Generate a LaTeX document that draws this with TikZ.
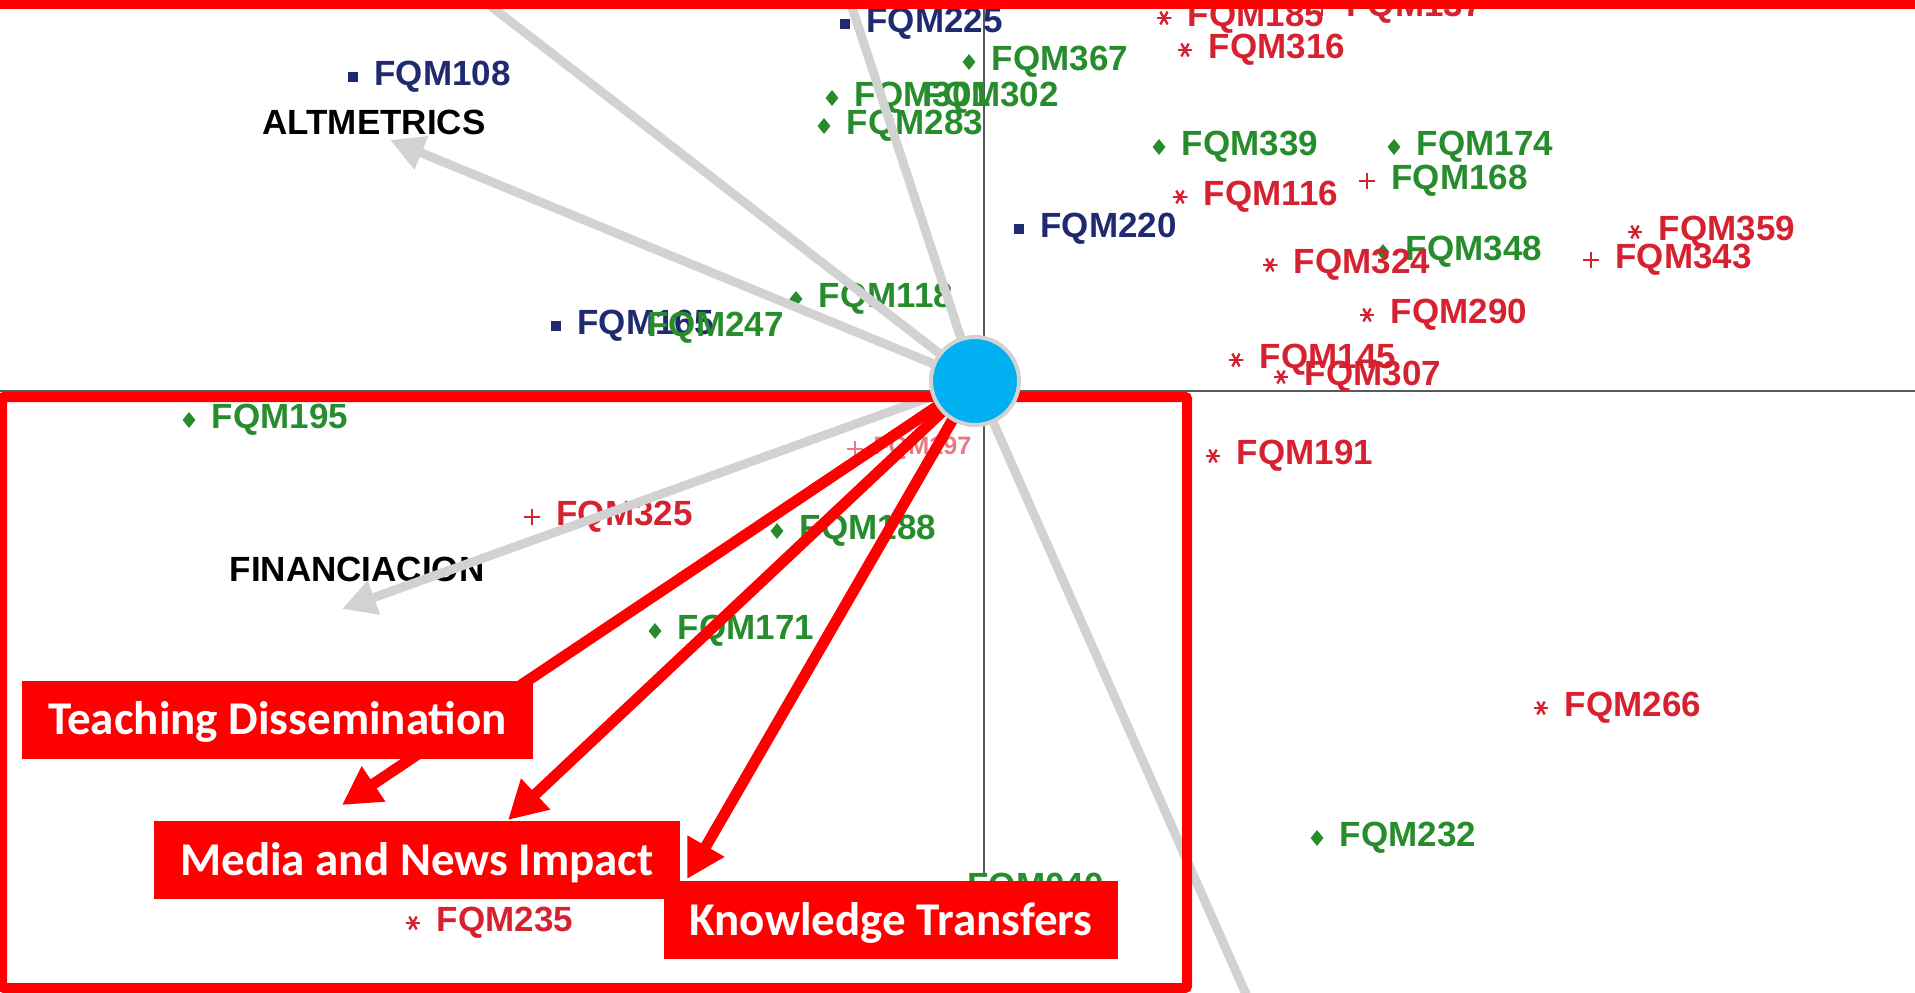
\documentclass[tikz,border=0pt]{standalone}
\usepackage{fontspec}
\usepackage{tikz}
\usetikzlibrary{
	positioning
	,shapes.geometric
	,arrows.meta
}
\newfontfamily\arial{Liberation Sans}
\newfontfamily\carlito{Carlito}
\definecolor{qnavy}{RGB}{32,42,112}
\definecolor{qgreen}{RGB}{38,140,44}
\definecolor{qred}{RGB}{214,34,48}
\definecolor{hot}{RGB}{255,0,0}
\definecolor{raygrey}{RGB}{210,210,210}
\definecolor{hubblue}{RGB}{0,176,240}
\newcommand{\fqm}[5][]{
	\node[#3,#4] (m#2) at (#5) {};
	\node[fqm label,text=#3,right=16pt of m#2,yshift=4pt,#1] (q#2) {FQM#2};
}
\tikzset{
	dotbase/.style={
		inner sep=0pt
		,minimum size=10pt
	},
	dot sq/.style={
		dotbase
		,rectangle
		,fill
		,minimum size=10pt
	},
	dot dm/.style={
		dotbase
		,diamond
		,fill
		,minimum width=13pt
		,minimum height=16pt
	},
	dot st/.style={
		dotbase
		,circle
		,minimum size=15pt
		,fill opacity=0
		,fill
		,path picture={
			\foreach \a in {0,60,120}{
				\draw[line width=2.4pt] (path picture bounding box.center) +(\a:7.5pt) -- +(\a+180:7.5pt);
			}
		}
	},
	dot pl/.style={
		dotbase
		,minimum size=16pt
		,fill opacity=0
		,fill
		,path picture={
			\foreach \a in {0,90}{
				\draw[line width=2.2pt] (path picture bounding box.center) +(\a:8pt) -- +(\a+180:8pt);
			}
		}
	},
	dot none/.style={
		dotbase
	}
}
\tikzset{fqm label/.style={
	inner sep=0pt,
	text height=25pt,
	text depth=0pt,
	font=\arial\bfseries\fontsize{35}{40}\selectfont,
}}
\tikzset{
	axisline/.style={line width=2.5pt,black!65}
	,grey ray/.style={line width=9pt,raygrey}
	,grey tip/.style={-{Triangle[length=34pt,width=34pt]}}
	,hot arrow/.style={line width=11pt,hot,-{Triangle[length=38pt,width=40pt]}}
	,tag/.style={
		fill=hot
		,text=white
		,inner sep=0pt
		,minimum height=78pt
		,text height=30pt
		,text depth=0pt
		,font=\carlito\bfseries\fontsize{47}{56}\selectfont
	}
	,hub/.style={circle,fill=hubblue,draw=raygrey,line width=4pt,minimum size=88pt,inner sep=0pt}
}

\begin{document}
\begin{tikzpicture}[x=1pt,y=-1pt]
	\useasboundingbox (0,0) rectangle (1915,993);
	\clip (0,0) rectangle (1915,993);

	% axes
	\draw[axisline] (0,391) -- (1915,391);
	\draw[axisline] (984,0) -- (984,877);

	% cases
	\foreach \n/\x/\y in{
		367/969/62, 301/832/98, 283/824/126, 339/1159/147, 174/1394/147,
		348/1383/252, 118/796/299, 195/189/420, 188/777/531, 171/655/631, 232/1317/838%
	}{
		\fqm{\n}{qgreen}{dot dm}{\x,\y}
	}
	\fqm{168}{qgreen}{dot pl,qred}{1367,181}
	\foreach \n/\x/\y in{
		225/845/24, 108/353/77, 220/1019/229, 165/556/326%
	}{
		\fqm{\n}{qnavy}{dot sq}{\x,\y}
	}
	\foreach \n/\x/\y in{
		302/901/98, 247/626/328, 040/946/889%
	}{
		\fqm{\n}{qgreen}{dot none}{\x,\y}
	}
	\foreach \n/\x/\y in{
		185/1164/18, 316/1185/50, 116/1180/197, 324/1270/265, 359/1635/232, 290/1367/315,
		145/1236/360, 307/1281/377, 191/1213/456, 266/1541/708, 235/413/923%
	}{
		\fqm{\n}{qred}{dot st}{\x,\y}
	}
	\foreach \n/\x/\y in{
		137/1322/8, 343/1591/260, 325/532/517%
	}{
		\fqm{\n}{qred}{dot pl}{\x,\y}
	}
	\fqm[scale=0.72,right=10pt of m197,text=qred!60]{197}{qred!60}{dot pl}{855,449}

	\node[fqm label] (alt) at (374,122) {ALTMETRICS};
	\node[fqm label] (fin) at (357,569) {FINANCIACION};

	% rays
	\coordinate (hubc) at (975,381);
	\coordinate (up1) at (457,-20);
	\coordinate (up2) at (843,-20);
	\coordinate (down) at (1253,1010);
	\coordinate (altend) at (390,140);
	\coordinate (finend) at (342,609);
	\foreach \e in {up1,up2,down}{
		\draw[grey ray] (hubc) -- (\e);
	}
	\draw[grey ray,grey tip] (hubc) -- (altend);
	\draw[grey ray,grey tip] (hubc) -- (finend);

	% frame
	\draw[hot,line width=10pt,rounded corners=2pt] (2,397) rectangle (1187,988);
	\fill[hot] (0,-5) rectangle (1915,9);

	% red arrows
	\coordinate (teachend) at (342,805);
	\coordinate (mediaend) at (508,820);
	\coordinate (knowend) at (687,879);
	\foreach \e in {teachend,mediaend,knowend}{
		\draw[hot arrow] (hubc) -- (\e);
	}

	\node[tag,minimum width=511pt] (teach) at (277.5,719.5) {Teaching Dissemination};
	\node[tag,minimum width=526pt] (media) at (417,860) {Media and News Impact};
	\node[tag,minimum width=454pt] (know) at (891,920) {Knowledge Transfers};

	\node[hub] (hub) at (hubc) {};
\end{tikzpicture}
\end{document}
